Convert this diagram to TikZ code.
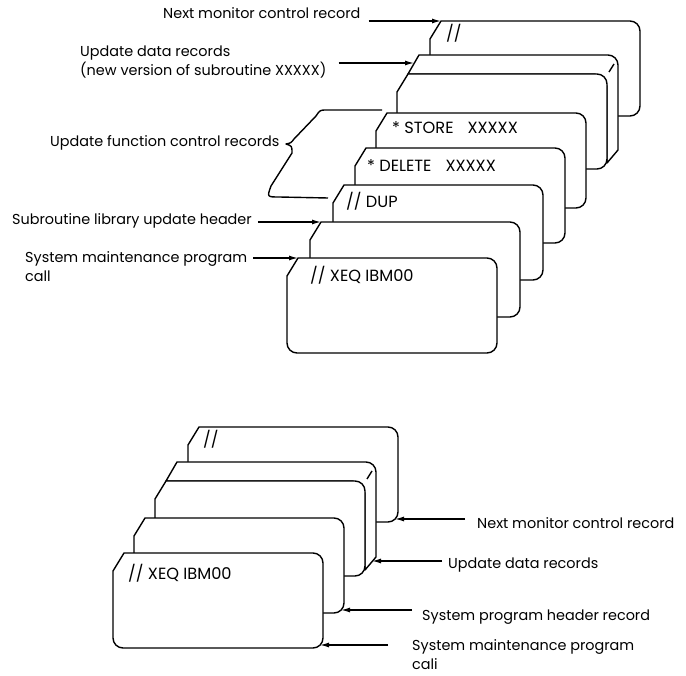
\documentclass[tikz,border=0pt]{standalone}
\usepackage{fontspec}
\setmainfont{Poppins}
\usetikzlibrary{arrows.meta,positioning}

\tikzset{
    % Outline of a punched card
    cardline/.style={
        draw=black,
        fill=white,
        line width=1.4pt,
        line join=round
    },
    % Label beside a deck
    recordlabel/.style={
        anchor=west,
        align=left,
        inner sep=0pt,
        font=\fontsize{14.4}{19}\selectfont
    },
    % Text punched on a card
    cardtext/.style={
        anchor=west,
        inner sep=0pt,
        font=\fontsize{16.2}{18}\selectfont
    },
    % Arrow pointing at a card
    recarrow/.style={
        -{Latex[length=9pt,width=5pt]},
        line width=1.3pt,
        draw=black
    },
    % Single card, origin at its top left
    card/.pic={
        \path[cardline] (11,0) -- (200,0) .. controls (205.5,0) and (210,4.5) .. (210,10)
            -- (210,85) .. controls (210,90.5) and (205.5,95) .. (200,95)
            -- (10,95) .. controls (4.5,95) and (0,90.5) .. (0,85) -- (0,18) -- cycle;
        \coordinate (-cut) at (11,0);
        \coordinate (-br) at (207,92);
    },
    % Thick deck of cards, origin at the front card
    deck/.pic={
        \path[cardline] (11,0) -- (22,-19) -- (211,-19) .. controls (216.5,-19) and (221,-14.5) .. (221,-9)
            -- (221,76) -- (210,89) -- (210,12) -- (198,0) -- cycle;
        \path[cardline] (11,0) -- (200,0) .. controls (205.5,0) and (210,4.5) .. (210,10)
            -- (210,85) .. controls (210,90.5) and (205.5,95) .. (200,95)
            -- (10,95) .. controls (4.5,95) and (0,90.5) .. (0,85) -- (0,18) -- cycle;
        \draw[line width=1.4pt] (217,-10) -- (212,-2);
        \coordinate (-cut) at (17,-11);
        \coordinate (-edge) at (217,80);
    }
}

\begin{document}
\begin{tikzpicture}[x=1pt, y=-1pt]
    \useasboundingbox (0,0) rectangle (686,676);

    % upper deck, back to front
    \pic (T7) at (430,21) {card};
    \pic (T6) at (397,74) {deck};
    \pic (T5) at (376,113) {card};
    \pic (T4) at (355,148) {card};
    \pic (T3) at (333,185) {card};
    \pic (T2) at (310,222) {card};
    \pic (T1) at (287,258) {card};

    \node[cardtext] (tx7) at (446,33) {//};
    \node[cardtext] (tx5) at (392,128) {* STORE\hspace{14pt}XXXXX};
    \node[cardtext] (tx4) at (367,166) {* DELETE\hspace{14pt}XXXXX};
    \node[cardtext] (tx3) at (346,201) {// DUP};
    \node[cardtext] (tx1) at (310,275) {// XEQ IBM00};

    \node[recordlabel] (lblNextT) at (163,13) {Next monitor control record};
    \node[recordlabel] (lblDataT) at (80,62) {Update data records\\(new version of subroutine XXXXX)};
    \node[recordlabel] (lblFuncT) at (50,143) {Update function control records};
    \node[recordlabel] (lblSubT) at (12,221) {Subroutine library update header};
    \node[recordlabel] (lblSysT) at (25,267) {System maintenance program\\call};

    \draw[recarrow] ([xshift=8pt]lblNextT.east |- T7-cut) -- (T7-cut);
    \draw[recarrow] ([xshift=12pt]lblDataT.east |- T6-cut) -- (T6-cut);
    \draw[recarrow] ([xshift=6pt]lblSubT.east |- T2-cut) -- (T2-cut);
    \draw[recarrow] ([xshift=6pt]lblSysT.east |- T1-cut) -- (T1-cut);

    % brace over the function cards
    \draw[line width=1.4pt, line join=round] (382,110) -- (327,110)
        .. controls (320,110) .. (316,116) -- (294,139)
        .. controls (291,143) .. (286,144)
        .. controls (292,146) .. (292,153) -- (271,186)
        .. controls (267,197) .. (279,197) -- (328,198);

    % lower deck, back to front
    \pic (B4) at (188,427) {card};
    \pic (B3) at (155,481) {deck};
    \pic (B2) at (134,518) {card};
    \pic (B1) at (113,553) {card};

    \node[cardtext] (bx4) at (203,439) {//};
    \node[cardtext] (bx1) at (128,573) {// XEQ IBM00};

    \node[recordlabel] (lblNextB) at (477,523) {Next monitor control record};
    \node[recordlabel] (lblDataB) at (448,565) {Update data records};
    \node[recordlabel] (lblHeadB) at (422,617) {System program header record};
    \node[recordlabel] (lblSysB) at (412,655) {System maintenance program\\cali};

    \draw[recarrow] ([xshift=-12pt]lblNextB.west |- B4-br) -- (B4-br);
    \draw[recarrow] ([xshift=-6pt]lblDataB.west |- B3-edge) -- (B3-edge);
    \draw[recarrow] ([xshift=-10pt]lblHeadB.west |- B2-br) -- (B2-br);
    \draw[recarrow] ([xshift=-24pt]lblSysB.west |- B1-br) -- (B1-br);
\end{tikzpicture}
\end{document}
